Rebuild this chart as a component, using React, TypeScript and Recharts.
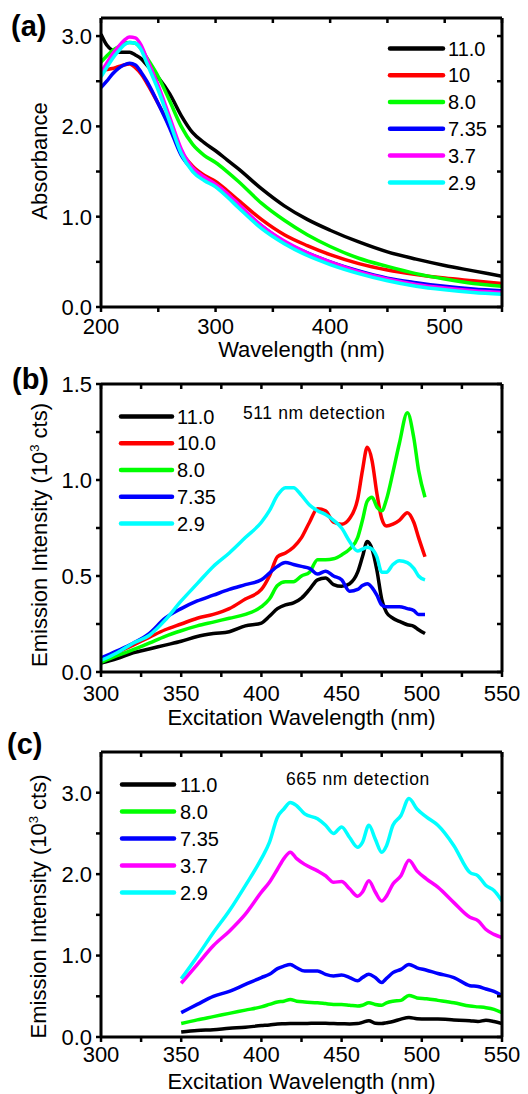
import React from 'react';
import { LineChart, Line, XAxis, YAxis, Legend } from 'recharts';

const FONT = '"Liberation Sans", Arial, Helvetica, sans-serif';

// ---------- Panel (a): absorbance ----------
const aWavelength = [200, 205, 210, 215, 220, 225, 230, 235, 240, 250, 260, 270, 280, 290, 300, 310, 320, 340, 360, 380, 400, 425, 450, 475, 500, 525, 550];
const aPH110 = [3.02, 2.9, 2.84, 2.82, 2.82, 2.82, 2.79, 2.75, 2.68, 2.54, 2.36, 2.12, 1.93, 1.82, 1.73, 1.63, 1.53, 1.31, 1.12, 0.97, 0.85, 0.72, 0.61, 0.53, 0.46, 0.4, 0.34];
const aPH10 = [2.62, 2.63, 2.64, 2.66, 2.68, 2.69, 2.65, 2.58, 2.48, 2.25, 2.0, 1.72, 1.56, 1.46, 1.39, 1.29, 1.18, 0.97, 0.8, 0.68, 0.58, 0.48, 0.41, 0.36, 0.32, 0.29, 0.26];
const aPH80 = [2.71, 2.78, 2.84, 2.88, 2.92, 2.93, 2.92, 2.86, 2.76, 2.55, 2.28, 2.0, 1.8, 1.68, 1.6, 1.5, 1.39, 1.15, 0.96, 0.8, 0.67, 0.54, 0.45, 0.37, 0.31, 0.26, 0.23];
const aPH735 = [2.43, 2.5, 2.58, 2.64, 2.68, 2.7, 2.68, 2.6, 2.5, 2.25, 1.98, 1.68, 1.52, 1.42, 1.34, 1.24, 1.12, 0.9, 0.72, 0.6, 0.5, 0.4, 0.32, 0.27, 0.23, 0.2, 0.18];
const aPH37 = [2.6, 2.7, 2.8, 2.88, 2.95, 2.99, 2.98, 2.9, 2.75, 2.45, 2.1, 1.75, 1.54, 1.44, 1.36, 1.26, 1.14, 0.9, 0.73, 0.6, 0.5, 0.39, 0.31, 0.25, 0.21, 0.18, 0.16];
const aPH29 = [2.55, 2.65, 2.75, 2.83, 2.9, 2.93, 2.92, 2.85, 2.7, 2.4, 2.05, 1.7, 1.5, 1.4, 1.33, 1.22, 1.1, 0.87, 0.7, 0.57, 0.47, 0.37, 0.29, 0.23, 0.19, 0.16, 0.14];
const aXTicks = [200, 250, 300, 350, 400, 450, 500, 550];
const aYTicks = [0, 0.5, 1.0, 1.5, 2.0, 2.5, 3.0];

// ---------- Panel (b): 511 nm detection ----------
const bWavelength = [300, 310, 320, 330, 340, 350, 360, 370, 380, 390, 400, 405, 410, 415, 420, 425, 430, 435, 440, 445, 450, 455, 460, 463, 466, 469, 472, 475, 478, 482, 486, 491, 495, 498, 502];
const bPH110 = [0.047, 0.07, 0.1, 0.12, 0.14, 0.16, 0.185, 0.2, 0.21, 0.24, 0.255, 0.29, 0.33, 0.35, 0.36, 0.385, 0.43, 0.48, 0.49, 0.455, 0.446, 0.46, 0.52, 0.6, 0.68, 0.64, 0.53, 0.38, 0.31, 0.28, 0.264, 0.246, 0.238, 0.22, 0.2];
const bPH100 = [0.055, 0.1, 0.14, 0.18, 0.22, 0.25, 0.28, 0.3, 0.33, 0.38, 0.43, 0.5, 0.6, 0.62, 0.65, 0.7, 0.78, 0.85, 0.84, 0.78, 0.77, 0.8, 0.9, 1.05, 1.17, 1.1, 0.93, 0.8, 0.76, 0.77, 0.79, 0.83, 0.78, 0.7, 0.6];
const bPH80 = [0.05, 0.085, 0.116, 0.15, 0.186, 0.215, 0.24, 0.26, 0.28, 0.3, 0.34, 0.38, 0.45, 0.47, 0.47, 0.5, 0.52, 0.585, 0.585, 0.59, 0.61, 0.64, 0.7, 0.79, 0.89, 0.91, 0.86, 0.84, 0.9, 1.04, 1.19, 1.35, 1.22, 1.05, 0.91];
const bPH735 = [0.073, 0.11, 0.15, 0.2, 0.28, 0.33, 0.37, 0.4, 0.43, 0.455, 0.48, 0.515, 0.55, 0.57, 0.56, 0.55, 0.54, 0.51, 0.525, 0.5, 0.48, 0.42, 0.43, 0.45, 0.46, 0.44, 0.4, 0.35, 0.34, 0.34, 0.34, 0.33, 0.32, 0.3, 0.3];
const bPH29 = [0.06, 0.1, 0.15, 0.19, 0.27, 0.37, 0.46, 0.55, 0.62, 0.7, 0.78, 0.84, 0.92, 0.96, 0.96, 0.92, 0.87, 0.84, 0.82, 0.79, 0.75, 0.68, 0.63, 0.64, 0.65, 0.64, 0.6, 0.52, 0.52, 0.56, 0.58, 0.57, 0.54, 0.5, 0.48];
const bcXTicks = [300, 325, 350, 375, 400, 425, 450, 475, 500, 525, 550];
const bYTicks = [0, 0.25, 0.5, 0.75, 1.0, 1.25, 1.5];

// ---------- Panel (c): 665 nm detection ----------
const cWavelength = [350, 360, 370, 380, 390, 400, 405, 410, 414, 418, 422, 427, 435, 440, 445, 450, 455, 460, 463, 467, 471, 475, 478, 482, 487, 492, 497, 503, 510, 520, 530, 535, 540, 545, 550];
const cPH110 = [0.06, 0.08, 0.09, 0.107, 0.12, 0.14, 0.148, 0.16, 0.163, 0.165, 0.165, 0.165, 0.17, 0.168, 0.165, 0.163, 0.16, 0.165, 0.18, 0.2, 0.17, 0.165, 0.175, 0.19, 0.22, 0.24, 0.225, 0.22, 0.22, 0.21, 0.2, 0.19, 0.205, 0.19, 0.165];
const cPH80 = [0.165, 0.21, 0.25, 0.29, 0.33, 0.37, 0.4, 0.43, 0.44, 0.46, 0.44, 0.43, 0.42, 0.41, 0.4, 0.4, 0.39, 0.38, 0.39, 0.42, 0.4, 0.39, 0.42, 0.44, 0.45, 0.51, 0.48, 0.47, 0.45, 0.42, 0.38, 0.37, 0.36, 0.34, 0.3];
const cPH735 = [0.3, 0.4, 0.5, 0.56, 0.645, 0.73, 0.77, 0.84, 0.87, 0.89, 0.85, 0.81, 0.81, 0.77, 0.75, 0.76, 0.73, 0.69, 0.73, 0.77, 0.73, 0.67, 0.72, 0.79, 0.83, 0.89, 0.85, 0.82, 0.78, 0.73, 0.63, 0.62, 0.59, 0.56, 0.51];
const cPH37 = [0.66, 0.89, 1.12, 1.3, 1.51, 1.78, 1.9, 2.06, 2.19, 2.27, 2.19, 2.12, 2.04, 1.98, 1.9, 1.91, 1.82, 1.73, 1.78, 1.92, 1.78, 1.67, 1.73, 1.88, 1.98, 2.17, 2.04, 1.94, 1.84, 1.65, 1.47, 1.43, 1.32, 1.26, 1.22];
const cPH29 = [0.715, 0.99, 1.28, 1.55, 1.86, 2.19, 2.39, 2.7, 2.8, 2.88, 2.84, 2.74, 2.68, 2.6, 2.5, 2.58, 2.45, 2.33, 2.39, 2.6, 2.43, 2.27, 2.35, 2.6, 2.72, 2.93, 2.8, 2.7, 2.6, 2.35, 2.02, 1.98, 1.86, 1.8, 1.67];
const cYTicks = [0, 0.5, 1.0, 1.5, 2.0, 2.5, 3.0];

type Series = { key: string; name: string; color: string; values: number[] };

const aSeries: Series[] = [
  { key: 'p110', name: '11.0', color: '#000000', values: aPH110 },
  { key: 'p10', name: '10', color: '#ff0000', values: aPH10 },
  { key: 'p80', name: '8.0', color: '#00ff00', values: aPH80 },
  { key: 'p735', name: '7.35', color: '#0000ff', values: aPH735 },
  { key: 'p37', name: '3.7', color: '#ff00ff', values: aPH37 },
  { key: 'p29', name: '2.9', color: '#00ffff', values: aPH29 },
];
const bSeries: Series[] = [
  { key: 'p110', name: '11.0', color: '#000000', values: bPH110 },
  { key: 'p100', name: '10.0', color: '#ff0000', values: bPH100 },
  { key: 'p80', name: '8.0', color: '#00ff00', values: bPH80 },
  { key: 'p735', name: '7.35', color: '#0000ff', values: bPH735 },
  { key: 'p29', name: '2.9', color: '#00ffff', values: bPH29 },
];
const cSeries: Series[] = [
  { key: 'p110', name: '11.0', color: '#000000', values: cPH110 },
  { key: 'p80', name: '8.0', color: '#00ff00', values: cPH80 },
  { key: 'p735', name: '7.35', color: '#0000ff', values: cPH735 },
  { key: 'p37', name: '3.7', color: '#ff00ff', values: cPH37 },
  { key: 'p29', name: '2.9', color: '#00ffff', values: cPH29 },
];

function buildRows(wave: number[], series: Series[]) {
  return wave.map((w, i) => {
    const row: Record<string, number> = { w };
    series.forEach((s) => {
      row[s.key] = s.values[i];
    });
    return row;
  });
}

type PanelProps = {
  top: number;
  height: number;
  margin: { top: number; right: number; bottom: number; left: number };
  wave: number[];
  series: Series[];
  xDomain: [number, number];
  xTicks: number[];
  xLabelStep: number;
  yDomain: [number, number];
  yTicks: number[];
  yLabelStep: number;
  xTitle: string;
  xTitleDy: number;
  xLabelGap: number;
  yTitle: React.ReactNode;
  yTitleShift: number;
  yTitleBaseline: number;
  legend: { left: number; top: number; lineLen: number; gap: number; rowH: number };
};

const WIDTH = 528;
const MIRROR = 6; // size reserved for the mirrored top / right axes
const TICK = 5;
const FRAME_W = 3;
const TICK_W = 2.5;

function isStep(v: number, step: number) {
  const r = v / step;
  return Math.abs(r - Math.round(r)) < 1e-6;
}

type Side = 'bottom' | 'left' | 'top' | 'right';

// custom tick: the axis places it; it draws the tick mark (out on bottom/left, in on top/right) and its label
function makeTick(side: Side, fmt: (v: number) => string, gap: number) {
  return (props: any) => {
    const x = Number(props.x);
    const y = Number(props.y);
    const label = fmt(Number(props.payload?.value));
    const textProps = { fontSize: 22, fontFamily: FONT, fill: '#000' };
    let d = '';
    if (side === 'bottom' || side === 'top') d = `M${x},${y}L${x},${y + TICK}`;
    else d = `M${x - TICK},${y}L${x},${y}`;
    return (
      <g>
        <path d={d} stroke="#000000" strokeWidth={TICK_W} fill="none" />
        {label && side === 'bottom' ? (
          <text x={x} y={y + gap} dy="0.72em" textAnchor="middle" {...textProps}>
            {label}
          </text>
        ) : null}
        {label && side === 'left' ? (
          <text x={x - gap} y={y} dy="0.36em" textAnchor="end" {...textProps}>
            {label}
          </text>
        ) : null}
      </g>
    );
  };
}

function Panel(p: PanelProps) {
  const data = buildRows(p.wave, p.series);
  const legendContent = (lp: any) => {
    const payload: any[] = lp?.payload ?? [];
    const items = p.series.map((s) => {
      const found = payload.find((e) => e.value === s.name);
      return { value: s.name, color: found?.color ?? s.color };
    });
    return (
      <svg width={140} height={items.length * p.legend.rowH} style={{ display: 'block', overflow: 'visible' }}>
        {items.map((it, i) => {
          const cy = p.legend.rowH / 2 + i * p.legend.rowH;
          return (
            <g key={it.value}>
              <line x1={2} x2={2 + p.legend.lineLen} y1={cy} y2={cy} stroke={it.color} strokeWidth={4.5} strokeLinecap="round" />
              <text x={2 + p.legend.lineLen + p.legend.gap} y={cy + 7.2} fontSize={20} fontFamily={FONT} fill="#000">
                {it.value}
              </text>
            </g>
          );
        })}
      </svg>
    );
  };

  const margin = {
    top: p.margin.top - MIRROR + 1,
    right: p.margin.right - MIRROR + 1,
    bottom: p.margin.bottom,
    left: p.margin.left,
  };
  const xFmt = (v: number) => (isStep(v, p.xLabelStep) ? String(v) : '');
  const yFmt = (v: number) => (isStep(v, p.yLabelStep) ? v.toFixed(1) : '');
  const none = () => '';
  const axisLineStyle = { stroke: '#000000', strokeWidth: FRAME_W };

  return (
    <div style={{ position: 'absolute', left: 0, top: p.top, width: WIDTH, height: p.height }}>
      <LineChart width={WIDTH} height={p.height} data={data} margin={margin}>
        <XAxis
          xAxisId={0}
          dataKey="w"
          type="number"
          domain={p.xDomain}
          ticks={p.xTicks}
          interval={0}
          allowDataOverflow
          height={40}
          stroke="#000000"
          axisLine={axisLineStyle}
          tickLine={false}
          tickSize={0}
          tickMargin={0}
          tick={makeTick('bottom', xFmt, TICK + p.xLabelGap)}
          label={(lp: any) => {
            const vb = lp.viewBox || {};
            return (
              <text x={vb.x + vb.width / 2} y={vb.y + p.xTitleDy} textAnchor="middle" fontSize={22} fontFamily={FONT} fill="#000">
                {p.xTitle}
              </text>
            );
          }}
        />
        <XAxis
          xAxisId="top"
          orientation="top"
          dataKey="w"
          type="number"
          domain={p.xDomain}
          ticks={p.xTicks}
          interval={0}
          allowDataOverflow
          height={MIRROR}
          stroke="#000000"
          axisLine={axisLineStyle}
          tickLine={false}
          tickSize={0}
          tickMargin={0}
          tick={makeTick('top', none, 0)}
        />
        <YAxis
          yAxisId={0}
          type="number"
          domain={p.yDomain}
          ticks={p.yTicks}
          interval={0}
          allowDataOverflow
          width={60}
          stroke="#000000"
          axisLine={axisLineStyle}
          tickLine={false}
          tickSize={0}
          tickMargin={0}
          tick={makeTick('left', yFmt, 9)}
          label={(lp: any) => {
            const vb = lp.viewBox || {};
            const x = vb.x + vb.width - p.yTitleBaseline;
            const y = vb.y + vb.height / 2 + p.yTitleShift;
            return (
              <text x={x} y={y} transform={`rotate(-90, ${x}, ${y})`} textAnchor="middle" fontSize={22} fontFamily={FONT} fill="#000">
                {p.yTitle}
              </text>
            );
          }}
        />
        <YAxis
          yAxisId="right"
          orientation="right"
          type="number"
          domain={p.yDomain}
          ticks={p.yTicks}
          interval={0}
          allowDataOverflow
          width={MIRROR}
          stroke="#000000"
          axisLine={axisLineStyle}
          tickLine={false}
          tickSize={0}
          tickMargin={0}
          tick={makeTick('right', none, 0)}
        />
        <Legend
          layout="vertical"
          align="center"
          verticalAlign="middle"
          content={legendContent}
          wrapperStyle={{ left: p.legend.left, top: p.legend.top, width: 140, margin: 0, padding: 0 }}
        />
        {/* invisible series that binds the mirrored frame axes */}
        <Line
          xAxisId="top"
          yAxisId="right"
          type="linear"
          dataKey={p.series[0].key}
          stroke="#ffffff"
          strokeOpacity={0}
          dot={false}
          activeDot={false}
          legendType="none"
          isAnimationActive={false}
        />
        {p.series.map((s) => (
          <Line
            key={s.key}
            xAxisId={0}
            yAxisId={0}
            type="monotone"
            dataKey={s.key}
            name={s.name}
            stroke={s.color}
            strokeWidth={3.5}
            dot={false}
            activeDot={false}
            isAnimationActive={false}
          />
        ))}
      </LineChart>
    </div>
  );
}

const emissionTitle = (
  <>
    <tspan>Emission Intensity (10</tspan>
    <tspan dy={-8} fontSize={13}>3</tspan>
    <tspan dy={8}> cts)</tspan>
  </>
);

export default function App() {
  return (
    <div style={{ position: 'absolute', left: 0, top: 0, width: WIDTH, height: 1094, background: '#fff', overflow: 'hidden' }}>
      <Panel
        top={0}
        height={370}
        margin={{ top: 17, right: 25, bottom: 23, left: 41 }}
        wave={aWavelength}
        series={aSeries}
        xDomain={[200, 550]}
        xTicks={aXTicks}
        xLabelStep={100}
        yDomain={[0, 3.2]}
        yTicks={aYTicks}
        yLabelStep={1}
        xTitle="Wavelength (nm)"
        xTitleDy={50}
        xLabelGap={6}
        yTitle="Absorbance"
        yTitleShift={-1.5}
        yTitleBaseline={54}
        legend={{ left: 388, top: 35, lineLen: 53, gap: 5, rowH: 26.8 }}
      />
      <Panel
        top={360}
        height={370}
        margin={{ top: 23, right: 25, bottom: 18, left: 41 }}
        wave={bWavelength}
        series={bSeries}
        xDomain={[300, 550]}
        xTicks={bcXTicks}
        xLabelStep={50}
        yDomain={[0, 1.5]}
        yTicks={bYTicks}
        yLabelStep={0.5}
        xTitle="Excitation Wavelength (nm)"
        xTitleDy={53}
        xLabelGap={8}
        yTitle={emissionTitle}
        yTitleShift={7}
        yTitleBaseline={54}
        legend={{ left: 119, top: 43, lineLen: 51, gap: 5, rowH: 26.8 }}
      />
      <Panel
        top={730}
        height={364}
        margin={{ top: 21, right: 25, bottom: 17, left: 41 }}
        wave={cWavelength}
        series={cSeries}
        xDomain={[300, 550]}
        xTicks={bcXTicks}
        xLabelStep={50}
        yDomain={[0, 3.5]}
        yTicks={cYTicks}
        yLabelStep={1}
        xTitle="Excitation Wavelength (nm)"
        xTitleDy={52}
        xLabelGap={4}
        yTitle={emissionTitle}
        yTitleShift={12}
        yTitleBaseline={55}
        legend={{ left: 120, top: 41, lineLen: 52, gap: 6, rowH: 27 }}
      />
      <svg width={WIDTH} height={1094} style={{ position: 'absolute', left: 0, top: 0, pointerEvents: 'none' }}>
        <text x={11} y={36} fontSize={29} fontWeight="bold" fontFamily={FONT} fill="#000">(a)</text>
        <text x={12} y={389} fontSize={29} fontWeight="bold" fontFamily={FONT} fill="#000">(b)</text>
        <text x={7} y={754} fontSize={29} fontWeight="bold" fontFamily={FONT} fill="#000">(c)</text>
        <text x={243} y={419} fontSize={17.5} fontFamily={FONT} letterSpacing={0.6} fill="#000">511 nm detection</text>
        <text x={286} y={785} fontSize={17.5} fontFamily={FONT} letterSpacing={0.6} fill="#000">665 nm detection</text>
      </svg>
    </div>
  );
}
